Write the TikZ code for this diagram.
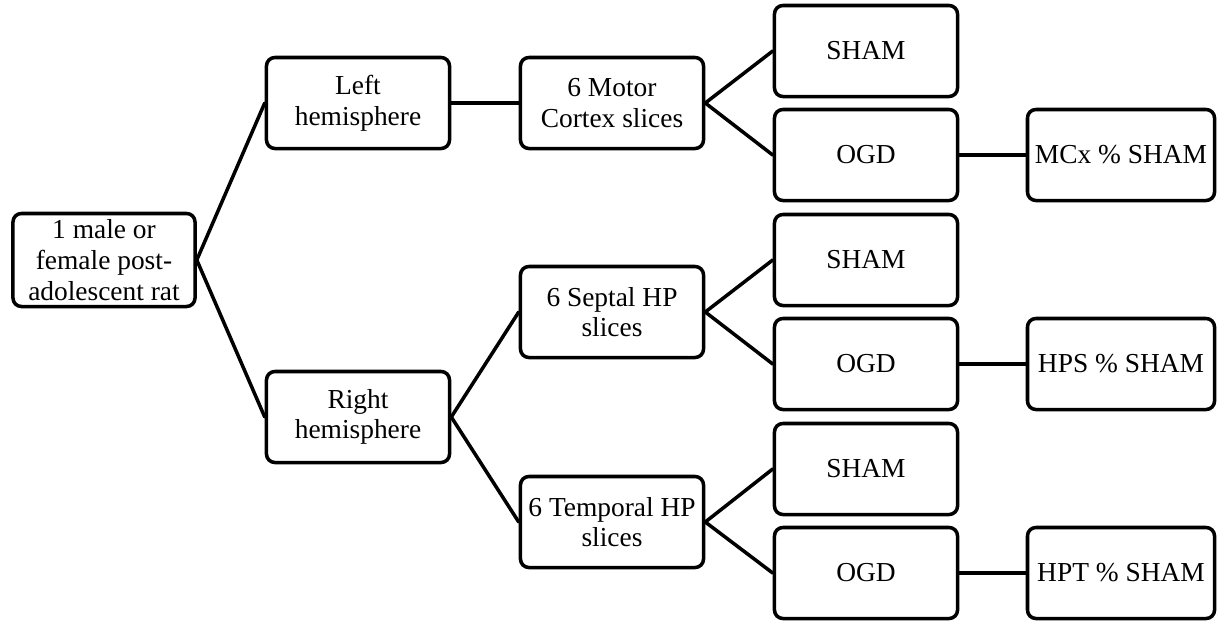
\documentclass[tikz,border=0pt]{standalone}
\usepackage{fontspec}
\setmainfont{Liberation Serif}
\begin{document}
\begin{tikzpicture}[x=0.025cm, y=-0.025cm, line width=2.5pt, line join=round, line cap=round,
    box/.style={draw, rounded corners=6pt, minimum width=4.575cm, minimum height=2.275cm,
        inner sep=0pt, align=center, font=\fontsize{19.5}{21.8}\selectfont}]
            \useasboundingbox (0,0) rectangle (1220,620);
            % tree of boxes, left to right
            \node[box, minimum width=4.55cm, minimum height=2.325cm] (rat) at (104,260) {1 male or\\female post-\\adolescent rat};
            \node[box] (lhemi) at (358,103) {Left\\hemisphere};
            \node[box] (rhemi) at (358,417) {Right\\hemisphere};
            \node[box] (motor) at (612,103) {6 Motor\\Cortex slices};
            \node[box] (septal) at (612,312) {6 Septal HP\\slices};
            \node[box] (temporal) at (612,522) {6 Temporal HP\\slices};
            \node[box] (shamA) at (866,51) {SHAM};
            \node[box] (ogdA) at (866,155) {OGD};
            \node[box] (shamB) at (866,260) {SHAM};
            \node[box] (ogdB) at (866,364) {OGD};
            \node[box] (shamC) at (866,469) {SHAM};
            \node[box] (ogdC) at (866,573) {OGD};
            \node[box, minimum width=4.675cm] (mcx) at (1121,155) {MCx \% SHAM};
            \node[box, minimum width=4.675cm] (hps) at (1121,364) {HPS \% SHAM};
            \node[box, minimum width=4.675cm] (hpt) at (1121,573) {HPT \% SHAM};
            % connectors
            \draw (rat.east) -- (lhemi.west);
            \draw (rat.east) -- (rhemi.west);
            \draw (lhemi.east) -- (motor.west);
            \draw (rhemi.east) -- (septal.west);
            \draw (rhemi.east) -- (temporal.west);
            \draw (motor.east) -- (shamA.west);
            \draw (motor.east) -- (ogdA.west);
            \draw (septal.east) -- (shamB.west);
            \draw (septal.east) -- (ogdB.west);
            \draw (temporal.east) -- (shamC.west);
            \draw (temporal.east) -- (ogdC.west);
            \draw (ogdA.east) -- (mcx.west);
            \draw (ogdB.east) -- (hps.west);
            \draw (ogdC.east) -- (hpt.west);
        \end{tikzpicture}
\end{document}
